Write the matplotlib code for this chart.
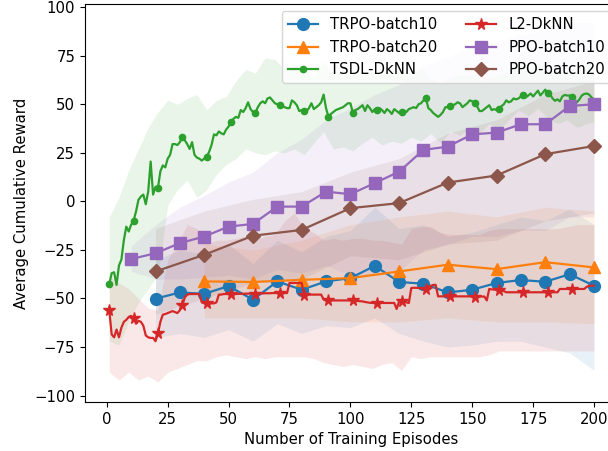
import numpy as np
import matplotlib
matplotlib.use("Agg")
import matplotlib.pyplot as plt

# ─── Data ─────────────────────────────────────────────────────────────────────
ep_trpo10 = list(range(20, 201, 10))
trpo10 = [-50.1, -46.9, -47.6, -43.6, -50.6, -41.2, -45.5, -41.2, -39.5, -33.2,
          -41.5, -42.4, -46.9, -45.5, -42.0, -40.5, -41.4, -37.5, -43.4]
trpo10_hi = [-30, -25, -27, -22, -32, -20, -26, -18, -15, -3,
             -14, -12, -18, -16, -12, -8, -10, -4, -12]
trpo10_lo = [-70, -68, -70, -66, -72, -63, -68, -64, -65, -60,
             -68, -72, -75, -74, -72, -72, -75, -78, -87]

ep_trpo20 = list(range(40, 201, 20))
trpo20 = [-41.2, -41.5, -40.4, -39.5, -36.1, -32.6, -34.9, -31.3, -34.0]
trpo20_hi = [-22, -25, -20, -12, -8, -5, -8, -3, -5]
trpo20_lo = [-60, -60, -60, -62, -62, -60, -62, -62, -63]

ep_ppo10 = list(range(10, 201, 10))
ppo10 = [-29.7, -26.7, -21.5, -18.1, -13.0, -11.6, -2.7, -2.7, 5.0, 3.7,
         9.4, 15.3, 26.5, 28.2, 34.5, 35.4, 39.7, 39.7, 49.1, 50.0]
ppo10_hi = [-23, -12, -3, 3, 10, 15, 25, 32, 42, 48,
            55, 60, 70, 74, 80, 82, 86, 88, 92, 92]
ppo10_lo = [-36, -40, -40, -39, -38, -40, -35, -37, -33, -38,
            -38, -36, -25, -22, -18, -18, -15, -15, -8, -8]

ep_ppo20 = list(range(20, 201, 20))
ppo20 = [-36.1, -27.5, -17.7, -14.7, -3.5, -0.9, 9.7, 13.3, 24.3, 28.5]
ppo20_hi = [-14, -5, 1, 5, 15, 22, 35, 42, 55, 62]
ppo20_lo = [-58, -50, -42, -40, -28, -30, -22, -20, -10, -6]

ep_dknn = list(range(1, 201))
tsdl = [-42.6, -37.0, -36.5, -43.0, -33.0, -30.0, -20.0, -13.0, -15.5, -12.0,
        -9.9, -5.2, 0.8, 2.5, 3.5, -1.5, 5.0, 20.5, 3.5, 7.5,
        7.0, 15.5, 18.5, 17.5, 22.0, 24.0, 29.5, 29.5, 29.0, 30.5,
        33.0, 31.5, 29.5, 27.0, 30.5, 24.0, 22.5, 22.0, 21.0, 22.0,
        23.0, 25.5, 29.0, 34.5, 34.0, 36.0, 35.0, 34.5, 37.0, 38.5,
        41.0, 42.5, 43.5, 43.0, 47.0, 46.0, 48.0, 51.0, 47.5, 46.0,
        45.5, 48.5, 50.5, 51.5, 50.5, 53.0, 53.5, 52.0, 50.5, 50.0,
        49.5, 49.0, 48.5, 48.0, 48.0, 52.0, 51.0, 49.5, 46.5, 47.0,
        46.5, 46.5, 48.0, 50.5, 47.5, 48.5, 49.5, 51.0, 55.0, 48.0,
        43.5, 45.0, 46.0, 47.0, 47.5, 48.0, 48.5, 49.5, 50.5, 50.5,
        45.7, 47.0, 47.5, 48.5, 49.5, 46.5, 49.5, 48.0, 46.0, 47.5,
        47.0, 48.0, 47.0, 45.5, 47.5, 46.5, 45.0, 47.5, 46.5, 45.5,
        45.8, 46.5, 46.0, 47.5, 48.0, 48.5, 48.0, 50.0, 50.5, 52.0,
        53.0, 48.0, 47.0, 45.5, 44.5, 43.5, 44.5, 46.0, 48.5, 48.5,
        49.0, 49.5, 50.0, 51.0, 50.5, 48.5, 49.5, 50.5, 52.0, 51.5,
        50.8, 49.0, 46.5, 46.5, 47.5, 48.5, 49.5, 47.0, 47.5, 47.0,
        47.4, 49.0, 50.0, 52.0, 51.0, 51.5, 53.0, 52.5, 53.0, 54.0,
        54.8, 53.5, 54.5, 55.5, 54.0, 55.5, 57.0, 54.5, 56.0, 57.5,
        55.6, 55.0, 53.0, 51.8, 52.5, 51.5, 54.0, 54.8, 54.5, 54.5,
        53.9, 50.5, 51.0, 52.5, 54.5, 55.3, 55.5, 55.0, 53.5, 52.5]
l2 = [-56.0, -68.5, -70.0, -66.0, -70.0, -65.0, -62.0, -61.0, -59.5, -59.0,
      -60.0, -63.0, -61.5, -62.0, -64.0, -69.0, -70.0, -70.3, -70.3, -72.0,
      -68.0, -62.0, -58.3, -58.0, -57.5, -57.0, -56.5, -57.0, -57.5, -56.0,
      -53.5, -49.5, -48.0, -47.7, -47.7, -47.7, -47.7, -47.7, -52.0, -52.5,
      -52.5, -52.5, -52.5, -52.5, -52.0, -48.0, -48.0, -47.7, -47.7, -47.7,
      -47.7, -47.7, -47.7, -47.6, -47.6, -47.6, -47.5, -47.5, -47.5, -47.5,
      -47.5, -47.4, -47.4, -47.4, -47.3, -47.3, -47.3, -47.2, -47.2, -47.2,
      -47.2, -47.2, -47.2, -47.2, -42.0, -42.0, -42.0, -42.0, -42.0, -42.0,
      -48.2, -48.0, -48.0, -48.0, -48.0, -48.0, -48.0, -48.0, -50.5, -51.0,
      -51.0, -51.0, -51.0, -51.0, -51.0, -51.0, -51.0, -51.0, -51.0, -51.0,
      -51.0, -51.2, -51.3, -51.4, -51.5, -51.8, -52.0, -52.2, -52.3, -52.3,
      -52.3, -52.3, -52.3, -52.3, -52.3, -52.3, -52.3, -52.3, -55.4, -51.5,
      -51.2, -51.5, -52.0, -52.3, -44.6, -44.5, -44.5, -44.6, -44.8, -44.9,
      -44.9, -44.0, -43.5, -43.0, -43.0, -48.9, -48.9, -48.9, -48.9, -48.9,
      -48.9, -48.9, -48.9, -48.9, -48.9, -48.9, -48.9, -48.9, -48.9, -49.0,
      -49.0, -49.0, -49.0, -49.0, -49.0, -51.0, -45.1, -45.3, -45.4, -45.5,
      -45.5, -45.8, -46.2, -46.8, -46.8, -46.8, -46.8, -46.8, -46.8, -46.8,
      -46.8, -46.8, -46.8, -46.8, -46.8, -46.8, -46.8, -46.8, -46.8, -46.8,
      -46.8, -46.8, -46.8, -46.8, -46.8, -45.1, -45.1, -45.1, -45.1, -45.1,
      -45.1, -45.1, -45.1, -45.1, -45.1, -45.1, -44.0, -43.5, -43.4, -43.4]

ep_band = list(range(1, 198, 4)) + [200]
tsdl_hi = [-8, 2, 16, 27, 38, 46, 52, 50, 53, 55, 47, 52, 54, 62, 68, 66, 74,
           73, 68, 70, 67, 64, 72, 66, 68, 65, 69, 66, 64, 67, 66, 64, 69, 63,
           61, 64, 66, 65, 62, 64, 65, 67, 70, 69, 71, 68, 66, 69, 67, 70, 68]
tsdl_lo = [-72, -74, -62, -52, -45, -38, -2, 6, 11, 2, 6, 14, 19, 22, 27, 25,
           24, 26, 25, 27, 24, 30, 36, 27, 28, 26, 30, 33, 29, 31, 30, 33, 31,
           35, 30, 36, 34, 38, 35, 40, 37, 42, 47, 44, 48, 43, 40, 42, 38, 40, 41]
l2_hi = [-38, -42, -45, -50, -55, -56, -30, -22, -12, -14, -22, -20, -20, -19,
         -18, -20, -18, -17, -10, -6, -14, -16, -20, -19, -20, -19, -19, -20,
         -20, -21, -22, -14, -13, -13, -16, -17, -17, -17, -17, -15, -14, -14,
         -14, -14, -14, -14, -14, -13, -12, -12, -12]
l2_lo = [-88, -92, -88, -92, -90, -93, -88, -86, -84, -82, -82, -80, -79, -80,
         -81, -80, -81, -80, -80, -80, -80, -81, -83, -84, -85, -84, -85, -86,
         -84, -83, -87, -80, -81, -80, -80, -80, -80, -80, -80, -79, -77, -77,
         -77, -77, -77, -77, -77, -77, -77, -77, -77]

# ─── Figure ───────────────────────────────────────────────────────────────────
plt.rcParams["font.size"] = 10.7

fig = plt.figure(figsize=(6.08, 4.51), dpi=100)
ax = fig.add_axes([0.1398, 0.1086, 0.877, 0.8825])

series = [
    ("TRPO-batch10", ep_trpo10, trpo10, ep_trpo10, trpo10_lo, trpo10_hi, "C0", "o", 8.5, 1),
    ("TRPO-batch20", ep_trpo20, trpo20, ep_trpo20, trpo20_lo, trpo20_hi, "C1", "^", 8.5, 1),
    ("TSDL-DkNN", ep_dknn, tsdl, ep_band, tsdl_lo, tsdl_hi, "C2", ".", 9, 10),
    ("L2-DkNN", ep_dknn, l2, ep_band, l2_lo, l2_hi, "C3", "*", 8.5, 10),
    ("PPO-batch10", ep_ppo10, ppo10, ep_ppo10, ppo10_lo, ppo10_hi, "C4", "s", 8.5, 1),
    ("PPO-batch20", ep_ppo20, ppo20, ep_ppo20, ppo20_lo, ppo20_hi, "C5", "D", 7.5, 1),
]
for label, x, y, bx, lo, hi, c, m, ms, every in series:
    ax.fill_between(bx, lo, hi, color=c, alpha=0.1, linewidth=0)
    ax.plot(x, y, color=c, marker=m, markersize=ms, markevery=every,
            linewidth=1.6, label=label)

ax.set_xlim(-8.95, 209.95)
ax.set_ylim(-103.3, 101.6)
ax.set_xticks([0, 25, 50, 75, 100, 125, 150, 175, 200])
ax.set_yticks([-100, -75, -50, -25, 0, 25, 50, 75, 100])
ax.set_xlabel("Number of Training Episodes")
ax.set_ylabel("Average Cumulative Reward")
ax.legend(loc="upper right", ncol=2)

fig.savefig("out.png", dpi=100)
